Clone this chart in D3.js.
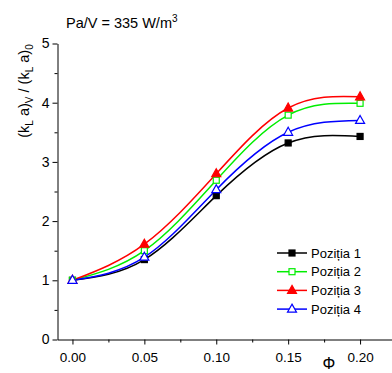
<!DOCTYPE html>
<html>
<head>
<meta charset="utf-8">
<script src="https://cdn.jsdelivr.net/npm/d3@7"></script>
<style>
body { margin: 0; background: #fff; }
text { font-family: Arial, "Liberation Sans", sans-serif; }
</style>
</head>
<body>
<svg></svg>
<script>
var phi = [0.00, 0.05, 0.10, 0.15, 0.20];
var pozitia1 = [1.00, 1.35, 2.43, 3.32, 3.43];
var pozitia2 = [1.00, 1.50, 2.69, 3.79, 3.99];
var pozitia3 = [1.00, 1.61, 2.80, 3.91, 4.10];
var pozitia4 = [1.00, 1.39, 2.53, 3.50, 3.70];
var seriesNames = ['Poziția 1', 'Poziția 2', 'Poziția 3', 'Poziția 4'];
var xTicks = [0.00, 0.05, 0.10, 0.15, 0.20];
var yTicks = [0, 1, 2, 3, 4, 5];

var w = 392;
var h = 373;
var svg = d3.select('svg')
    .attr('width', w)
    .attr('height', h);

var x = d3.scaleLinear().domain([-0.0104, 0.2222]).range([57.5, 392]);
var y = d3.scaleLinear().domain([0, 5]).range([339.5, 43.5]);

var series = [
    {name: seriesNames[0], values: pozitia1, color: '#000000', shape: 'square', fill: true},
    {name: seriesNames[1], values: pozitia2, color: '#00ee00', shape: 'square', fill: false},
    {name: seriesNames[2], values: pozitia3, color: '#ff0000', shape: 'triangle', fill: true},
    {name: seriesNames[3], values: pozitia4, color: '#0000ff', shape: 'triangle', fill: false}
];

// axes
var xAxis = d3.axisBottom(x).tickValues(xTicks).tickFormat(d3.format('.2f')).tickSize(5).tickSizeOuter(0);
var gx = svg.append('g').attr('transform', 'translate(0,339.5)').call(xAxis);
gx.selectAll('text').attr('font-size', 13.5).attr('dy', '1.05em').attr('fill', '#000');
var gxMinor = svg.append('g').attr('transform', 'translate(0,339.5)')
    .call(d3.axisBottom(x).tickValues([0.025, 0.075, 0.125, 0.175]).tickSize(3).tickFormat(''));
gxMinor.select('.domain').remove();

var yAxis = d3.axisLeft(y).tickValues(yTicks).tickFormat(d3.format('d')).tickSize(5).tickSizeOuter(0);
var gy = svg.append('g').attr('transform', 'translate(57.5,0)').call(yAxis);
gy.selectAll('text').attr('font-size', 14).attr('fill', '#000');
var gyMinor = svg.append('g').attr('transform', 'translate(57.5,0)')
    .call(d3.axisLeft(y).tickValues([0.5, 1.5, 2.5, 3.5, 4.5]).tickSize(3).tickFormat(''));
gyMinor.select('.domain').remove();

svg.selectAll('.domain, .tick line').attr('stroke', '#000');

// title
var title = svg.append('text').attr('x', 66).attr('y', 28).attr('font-size', 14.5);
title.append('tspan').text('Pa/V = 335 W/m');
title.append('tspan').attr('dy', -6).attr('font-size', 10).text('3');

// y label
var yl = svg.append('text')
    .attr('transform', 'translate(29,91) rotate(-90)')
    .attr('text-anchor', 'middle')
    .attr('font-size', 14.5);
yl.append('tspan').text('(k');
yl.append('tspan').attr('font-size', 10).attr('dy', 4).text('L');
yl.append('tspan').attr('dy', -4).text(' a)');
yl.append('tspan').attr('font-size', 10).attr('dy', 4).text('V');
yl.append('tspan').attr('dy', -4).text(' / (k');
yl.append('tspan').attr('font-size', 10).attr('dy', 4).text('L');
yl.append('tspan').attr('dy', -4).text(' a)');
yl.append('tspan').attr('font-size', 10).attr('dy', 4).text('0');

// x label
svg.append('text').attr('x', 329).attr('y', 369).attr('text-anchor', 'middle')
    .attr('font-size', 16).attr('font-family', '"Liberation Serif", "DejaVu Serif", serif').text('Φ');

var line = d3.line()
    .x(function(d, i) { return x(phi[i]); })
    .y(function(d) { return y(d); })
    .curve(d3.curveNatural);

function drawMarker(g, s, cx, cy) {
    if (s.shape === 'square') {
        g.append('rect')
            .attr('x', cx - 3).attr('y', cy - 3)
            .attr('width', 6).attr('height', 6)
            .attr('fill', s.fill ? s.color : '#fff')
            .attr('stroke', s.color).attr('stroke-width', 1.2);
    } else {
        g.append('path')
            .attr('d', 'M' + cx + ',' + (cy - 5) + 'L' + (cx + 4.5) + ',' + (cy + 3) + 'L' + (cx - 4.5) + ',' + (cy + 3) + 'Z')
            .attr('fill', s.fill ? s.color : '#fff')
            .attr('stroke', s.color).attr('stroke-width', 1.2);
    }
}

series.forEach(function(s) {
    svg.append('path')
        .datum(s.values)
        .attr('d', line)
        .attr('fill', 'none')
        .attr('stroke', s.color)
        .attr('stroke-width', 1.5);
});
series.forEach(function(s) {
    var g = svg.append('g');
    s.values.forEach(function(v, i) {
        drawMarker(g, s, x(phi[i]), y(v));
    });
});

// legend
series.forEach(function(s, i) {
    var ly = 253 + i * 18.7;
    var g = svg.append('g');
    g.append('line').attr('x1', 277).attr('x2', 307).attr('y1', ly).attr('y2', ly)
        .attr('stroke', s.color).attr('stroke-width', 1.5);
    drawMarker(g, s, 292, ly);
    g.append('text').attr('x', 311).attr('y', ly + 4.5).attr('font-size', 13).text(s.name);
});
</script>
</body>
</html>
